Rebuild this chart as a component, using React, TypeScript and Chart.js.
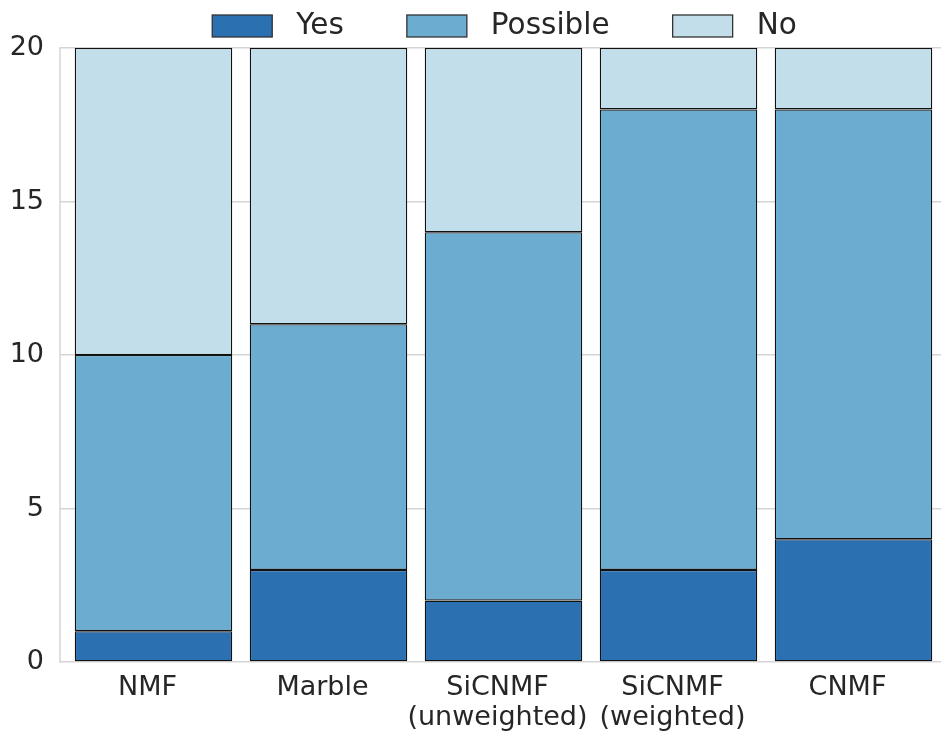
import React, { useEffect, useRef } from 'react';
import { Chart, registerables } from 'chart.js';

Chart.register(...registerables);

const categories: (string | string[])[] = ['NMF', 'Marble', ['SiCNMF', '(unweighted)'], ['SiCNMF', '(weighted)'], 'CNMF'];
const yesValues = [1, 3, 2, 3, 4];
const possibleValues = [9, 8, 12, 15, 14];
const noValues = [10, 9, 6, 2, 2];
const seriesLabels = ['Yes', 'Possible', 'No'];
const seriesColors = ['#2b70b0', '#6bacd0', '#c3deeb'];
const yTickValues = [0, 5, 10, 15, 20];

const FONT = '"DejaVu Sans", sans-serif';
const TEXT = '#262626';
const GRID = '#d5d5d5';

const spinePlugin = {
  id: 'spine',
  beforeDatasetsDraw(chart: any) {
    const { ctx, chartArea } = chart;
    ctx.save();
    ctx.strokeStyle = GRID;
    ctx.lineWidth = 1.5;
    const x = chartArea.left - 6;
    ctx.beginPath();
    ctx.moveTo(x, chartArea.top - 0.75);
    ctx.lineTo(x, chartArea.bottom + 0.75);
    ctx.stroke();
    ctx.restore();
  },
};

const legendPlugin = {
  id: 'customLegend',
  afterDraw(chart: any) {
    const { ctx, chartArea } = chart;
    const boxW = 60, boxH = 22, gapBoxText = 24, gapItems = 63;
    ctx.save();
    ctx.font = `29.5px ${FONT}`;
    const items = chart.data.datasets.map((ds: any) => ({
      label: ds.label,
      color: ds.backgroundColor,
      tw: ctx.measureText(ds.label).width,
    }));
    let total = 0;
    items.forEach((it: any, i: number) => {
      total += boxW + gapBoxText + it.tw + (i < items.length - 1 ? gapItems : 0);
    });
    const center = (chartArea.left - 6 + chartArea.right) / 2 + 4;
    let x = center - total / 2;
    const yc = 26;
    items.forEach((it: any) => {
      ctx.fillStyle = it.color;
      ctx.fillRect(x, yc - boxH / 2, boxW, boxH);
      ctx.strokeStyle = '#333333';
      ctx.lineWidth = 1.3;
      ctx.strokeRect(x, yc - boxH / 2, boxW, boxH);
      ctx.fillStyle = TEXT;
      ctx.textBaseline = 'middle';
      ctx.textAlign = 'left';
      ctx.fillText(it.label, x + boxW + gapBoxText, yc);
      x += boxW + gapBoxText + it.tw + gapItems;
    });
    ctx.restore();
  },
};

export default function App() {
  const ref = useRef<HTMLCanvasElement | null>(null);

  useEffect(() => {
    if (!ref.current) return;
    const seriesValues = [yesValues, possibleValues, noValues];
    const chart = new Chart(ref.current, {
      type: 'bar',
      data: {
        labels: categories,
        datasets: seriesLabels.map((label, i) => ({
          label,
          data: seriesValues[i],
          backgroundColor: seriesColors[i],
          borderColor: '#111111',
          borderWidth: 1.3,
          borderSkipped: false,
          barPercentage: 0.9,
          categoryPercentage: 1,
        })),
      },
      options: {
        responsive: false,
        animation: false,
        layout: { padding: { top: 48, right: 0, left: 0, bottom: 0 } },
        plugins: {
          legend: { display: false },
          tooltip: { enabled: false },
        },
        scales: {
          x: {
            stacked: true,
            grid: { display: false, drawTicks: false, tickLength: 0 },
            border: { display: false },
            ticks: {
              color: TEXT,
              font: { family: FONT, size: 27, lineHeight: 1.12 },
              padding: 11,
              labelOffset: -6,
              maxRotation: 0,
              autoSkip: false,
            },
            afterFit(scale: any) {
              scale.height = 72;
            },
          },
          y: {
            stacked: true,
            min: 0,
            max: 20,
            afterBuildTicks(scale: any) {
              scale.ticks = yTickValues.map((v) => ({ value: v }));
            },
            grid: { color: GRID, lineWidth: 1.5, drawTicks: true, tickLength: 6 },
            border: { display: false },
            ticks: {
              color: TEXT,
              font: { family: FONT, size: 27 },
              padding: 16,
            },
            afterFit(scale: any) {
              scale.width = 66;
            },
          },
        },
      },
      plugins: [spinePlugin, legendPlugin],
    });
    return () => chart.destroy();
  }, []);

  return (
    <div style={{ position: 'fixed', left: 0, top: 0, width: 941, height: 734, background: '#fff' }}>
      <canvas ref={ref} width={941} height={734} style={{ display: 'block' }} />
    </div>
  );
}
